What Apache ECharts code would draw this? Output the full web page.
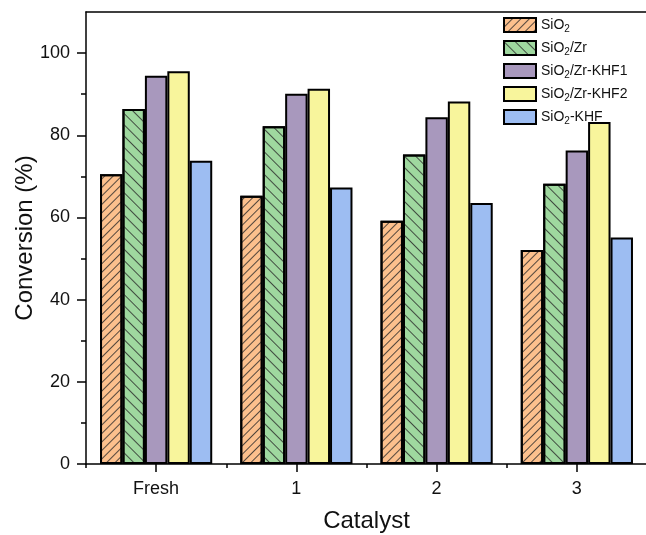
<!DOCTYPE html>
<html><head><meta charset="utf-8">
<script src="https://cdn.jsdelivr.net/npm/echarts@6/dist/echarts.min.js"></script>
<style>html,body{margin:0;padding:0;background:#fff}#c{width:646px;height:535px}</style>
</head><body><div id="c"></div>
<script>
const categories = ['Fresh', '1', '2', '3'];
const seriesNames = ['SiO2', 'SiO2/Zr', 'SiO2/Zr-KHF1', 'SiO2/Zr-KHF2', 'SiO2-KHF'];
const sio2 = [70.5, 65.3, 59.2, 52.1];
const sio2Zr = [86.4, 82.2, 75.3, 68.2];
const sio2ZrKhf1 = [94.5, 90.1, 84.4, 76.3];
const sio2ZrKhf2 = [95.6, 91.3, 88.2, 83.2];
const sio2Khf = [73.8, 67.3, 63.5, 55.1];
const yTicks = [0, 20, 40, 60, 80, 100];
const yMinorTicks = [10, 30, 50, 70, 90];

const FONT = 'Liberation Sans, Arial, sans-serif';
const colors = ['#FCC08D', '#9FD89F', '#A898BD', '#F8F59C', '#9DBDF2'];
const decals = [
  {symbol:'rect', symbolSize:1, dashArrayX:[1,0], dashArrayY:[1,5], rotation:-Math.PI/4, color:'rgba(40,40,40,0.8)'},
  {symbol:'rect', symbolSize:1, dashArrayX:[1,0], dashArrayY:[1,7], rotation:Math.PI/4, color:'rgba(40,40,40,0.8)'},
  null, null, null
];
const dataSets = [sio2, sio2Zr, sio2ZrKhf1, sio2ZrKhf2, sio2Khf];

function richName(n) {
  return n.split('SiO2').map((p, i) => (i > 0 ? '{a|SiO}{s|2}' : '') + (p ? '{a|' + p + '}' : '')).join('');
}

const series = seriesNames.map((name, i) => ({
  name: name,
  type: 'bar',
  xAxisIndex: 0,
  yAxisIndex: 0,
  data: dataSets[i],
  barGap: '0%',
  barCategoryGap: '20%',
  itemStyle: Object.assign({color: colors[i], borderColor: '#000', borderWidth: 2},
                           decals[i] ? {decal: decals[i]} : {}),
  emphasis: {disabled: true}
}));

const chart = echarts.init(document.getElementById('c'), null, {renderer: 'canvas'});
chart.setOption({
  animation: false,
  backgroundColor: '#fff',
  grid: {left: 86, top: 12, right: -1, bottom: 71, containLabel: false, outerBoundsMode: 'none'},
  legend: {
    left: 503, top: 17, orient: 'vertical', padding: 0,
    itemWidth: 32, itemHeight: 14, itemGap: 6,
    icon: 'rect',
    data: seriesNames,
    formatter: richName,
    textStyle: {
      fontFamily: FONT, color: '#111',
      rich: {
        a: {fontSize: 14, fontFamily: FONT, color: '#111'},
        s: {fontSize: 10, fontFamily: FONT, color: '#111', padding: [8, 0, 0, 0]}
      }
    }
  },
  xAxis: [
    {
      type: 'category', data: categories, position: 'bottom',
      name: 'Catalyst', nameLocation: 'middle', nameGap: 45, nameMoveOverlap: false,
      nameTextStyle: {fontSize: 24, fontFamily: FONT, color: '#111'},
      axisLine: {show: true, lineStyle: {color: '#000', width: 1.5}},
      axisTick: {show: true, alignWithLabel: true, length: 8, lineStyle: {color: '#000', width: 1.5}},
      axisLabel: {fontSize: 18, color: '#111', margin: 16, fontFamily: FONT},
      splitLine: {show: false}
    },
    {
      type: 'category', data: categories, position: 'bottom',
      axisLine: {show: false},
      axisTick: {show: true, alignWithLabel: false, length: 4, lineStyle: {color: '#000', width: 1.5}},
      axisLabel: {show: false},
      splitLine: {show: false}
    },
    {
      type: 'category', data: categories, position: 'top',
      axisLine: {show: true, lineStyle: {color: '#000', width: 1.5}},
      axisTick: {show: false}, axisLabel: {show: false}, splitLine: {show: false}
    }
  ],
  yAxis: [
    {
      type: 'value', min: 0, max: 110, interval: 10,
      name: 'Conversion (%)', nameLocation: 'middle', nameGap: 49, nameMoveOverlap: false,
      nameTextStyle: {fontSize: 24, fontFamily: FONT, color: '#111'},
      axisLine: {show: true, lineStyle: {color: '#000', width: 1.5}},
      axisTick: {show: true, length: 9, customValues: yTicks, lineStyle: {color: '#000', width: 1.5}},
      axisLabel: {fontSize: 18, color: '#111', margin: 16, customValues: yTicks, fontFamily: FONT},
      splitLine: {show: false}
    },
    {
      type: 'value', min: 0, max: 110, interval: 10, position: 'left',
      axisLine: {show: false},
      axisTick: {show: true, length: 5, customValues: yMinorTicks, lineStyle: {color: '#000', width: 1.5}},
      axisLabel: {show: false},
      splitLine: {show: false}
    }
  ],
  series: series
});
</script></body></html>
